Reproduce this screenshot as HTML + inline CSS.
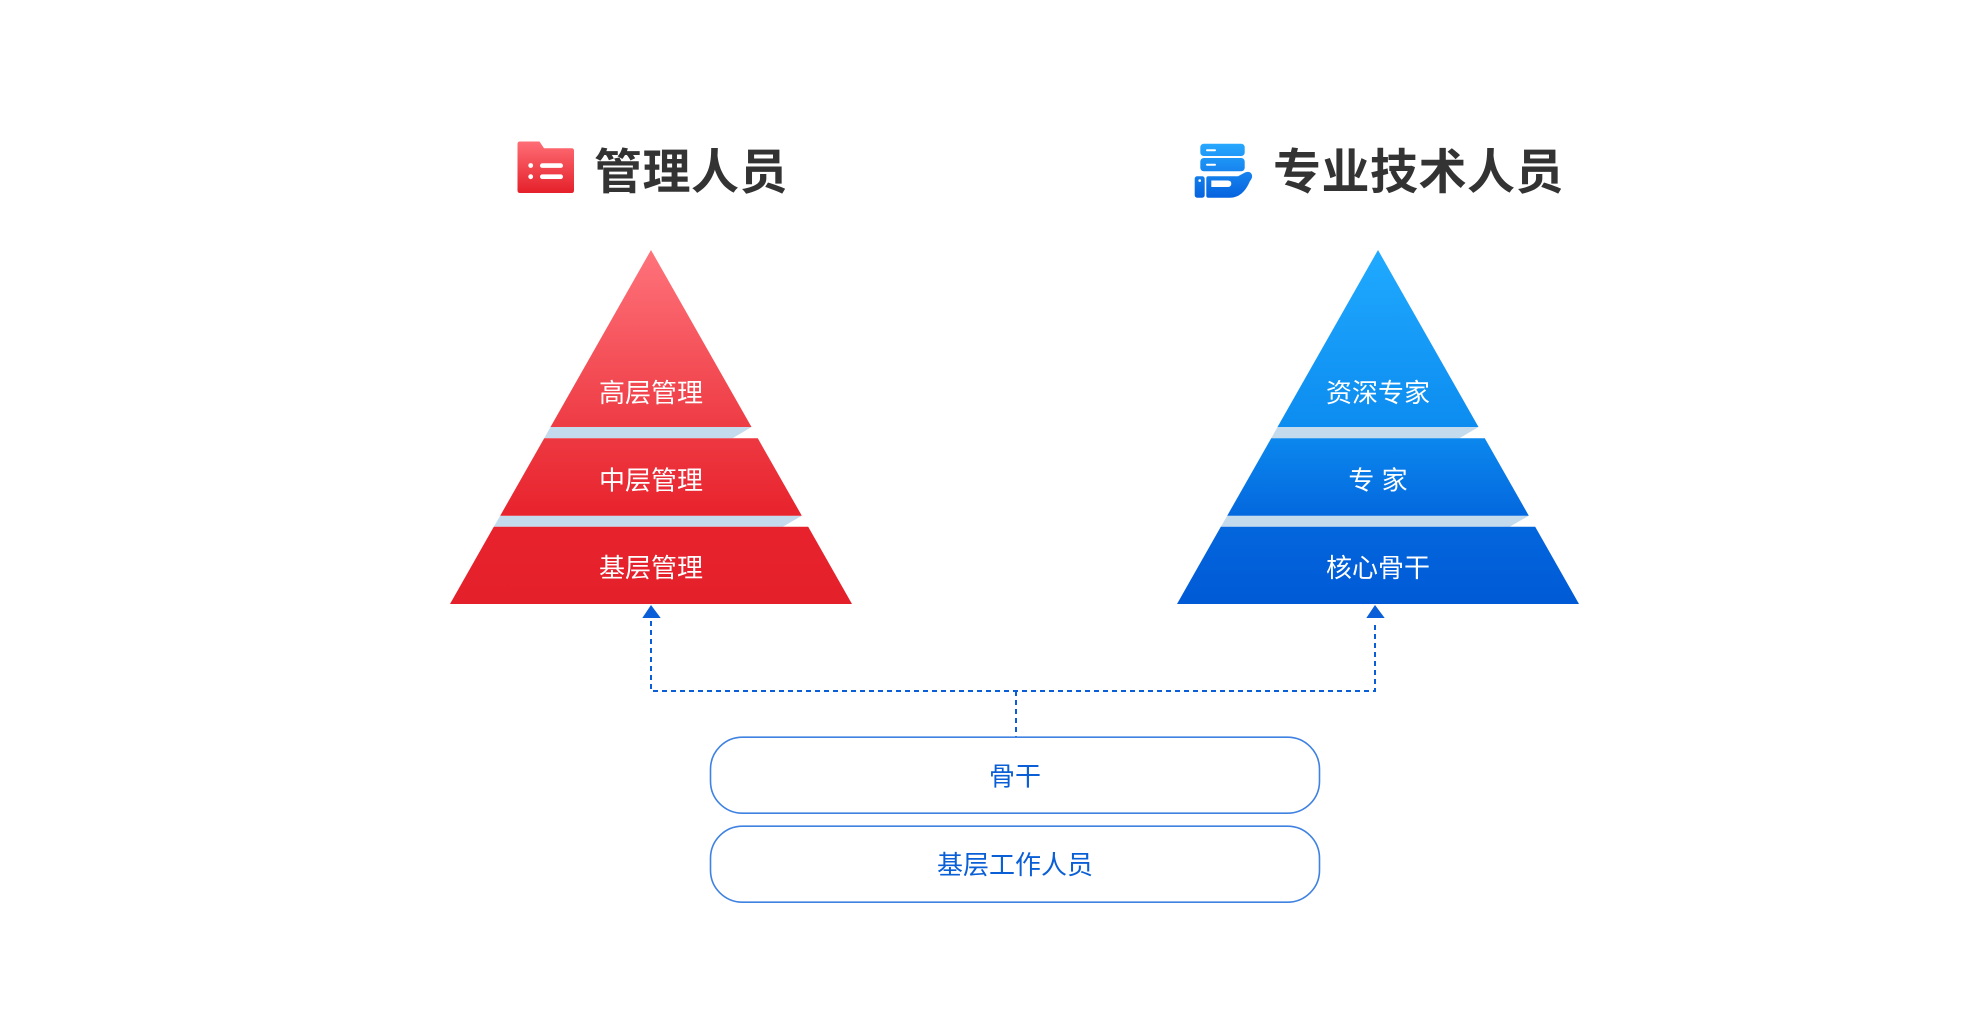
<!DOCTYPE html>
<html>
<head>
<meta charset="utf-8">
<style>
  html, body { margin: 0; padding: 0; background: #ffffff; }
  body { width: 1977px; height: 1016px; overflow: hidden; }
  svg { display: block; }
  text { font-family: "Liberation Sans", "Noto Sans CJK SC", sans-serif; }
</style>
</head>
<body>
<svg width="1977" height="1016" viewBox="0 0 1977 1016" xmlns="http://www.w3.org/2000/svg">
  <defs>
    <linearGradient id="redG" gradientUnits="userSpaceOnUse" x1="0" y1="250" x2="0" y2="604">
      <stop offset="0" stop-color="#ff737b"/>
      <stop offset="0.5" stop-color="#ee3b44"/>
      <stop offset="0.75" stop-color="#e8232d"/>
      <stop offset="1" stop-color="#e4202a"/>
    </linearGradient>
    <linearGradient id="blueG" gradientUnits="userSpaceOnUse" x1="0" y1="250" x2="0" y2="604">
      <stop offset="0" stop-color="#20aaff"/>
      <stop offset="0.5" stop-color="#0c8cf0"/>
      <stop offset="0.75" stop-color="#0468de"/>
      <stop offset="1" stop-color="#005ad6"/>
    </linearGradient>
    <linearGradient id="redIcon" x1="0" y1="0" x2="0" y2="1">
      <stop offset="0" stop-color="#ff6e76"/>
      <stop offset="1" stop-color="#e5202a"/>
    </linearGradient>
    <linearGradient id="blueIcon" gradientUnits="userSpaceOnUse" x1="0" y1="143" x2="0" y2="198">
      <stop offset="0" stop-color="#28a9ff"/>
      <stop offset="1" stop-color="#0662df"/>
    </linearGradient>
  </defs>

  <!-- Left title icon -->
  <path d="M517.5 144 Q517.5 141.5 520 141.5 H539.5 L544 148.3 H571.5 Q574 148.3 574 150.8 V190.5 Q574 193 571.5 193 H520 Q517.5 193 517.5 190.5 Z" fill="url(#redIcon)"/>
  <circle cx="530.7" cy="165.5" r="2.4" fill="#ffffff"/>
  <circle cx="530.7" cy="176.7" r="2.4" fill="#ffffff"/>
  <rect x="540" y="163.3" width="23" height="4.6" rx="2.3" fill="#ffffff"/>
  <rect x="540" y="174.4" width="23" height="4.6" rx="2.3" fill="#ffffff"/>
  <text x="594" y="188.5" font-size="48" font-weight="bold" letter-spacing="0.5" fill="#333333">管理人员</text>

  <!-- Right title icon -->
  <rect x="1200.3" y="143.7" width="44.4" height="12.3" rx="3.5" fill="url(#blueIcon)"/>
  <rect x="1200.3" y="158" width="44.4" height="13.3" rx="3.5" fill="url(#blueIcon)"/>
  <rect x="1206" y="149.3" width="10" height="2" rx="1" fill="#ffffff"/>
  <rect x="1206" y="163.7" width="10" height="2" rx="1" fill="#ffffff"/>
  <rect x="1194.7" y="176.3" width="10" height="21.4" rx="2.5" fill="url(#blueIcon)"/>
  <circle cx="1199.7" cy="180.6" r="1.3" fill="#ffffff"/>
  <path d="M1208.3 176.3 H1238 L1245 172.5 Q1250 170.5 1251.8 174.5 Q1253 177.5 1250 181 Q1243 197.7 1230 197.7 H1208.3 Q1206.3 197.7 1206.3 195.7 V178.3 Q1206.3 176.3 1208.3 176.3 Z" fill="url(#blueIcon)"/>
  <path d="M1211.3 180.5 H1227.5 Q1231.3 180.5 1231.3 183.7 Q1231.3 187 1227.5 187 H1211.3 Z" fill="#ffffff"/>
  <text x="1273" y="188.5" font-size="48" font-weight="bold" letter-spacing="0.5" fill="#333333">专业技术人员</text>

  <!-- Left pyramid -->
  <polygon points="550.5,427 751.5,427 732.5,438.3 544.2,438.3" fill="#c4dbee"/>
  <polygon points="500.2,515.7 801.8,515.7 782.8,526.7 493.8,526.7" fill="#c4dbee"/>
  <polygon points="651,250 751.5,427 550.5,427" fill="url(#redG)"/>
  <polygon points="544.2,438.3 757.8,438.3 801.8,515.7 500.2,515.7" fill="url(#redG)"/>
  <polygon points="493.8,526.7 808.2,526.7 852,604 450,604" fill="url(#redG)"/>
  <text x="651" y="402" font-size="26" fill="#ffffff" text-anchor="middle">高层管理</text>
  <text x="651" y="489.5" font-size="26" fill="#ffffff" text-anchor="middle">中层管理</text>
  <text x="651" y="577" font-size="26" fill="#ffffff" text-anchor="middle">基层管理</text>

  <!-- Right pyramid -->
  <g transform="translate(727,0)">
    <polygon points="550.5,427 751.5,427 732.5,438.3 544.2,438.3" fill="#c4dbee"/>
    <polygon points="500.2,515.7 801.8,515.7 782.8,526.7 493.8,526.7" fill="#c4dbee"/>
    <polygon points="651,250 751.5,427 550.5,427" fill="url(#blueG)"/>
    <polygon points="544.2,438.3 757.8,438.3 801.8,515.7 500.2,515.7" fill="url(#blueG)"/>
    <polygon points="493.8,526.7 808.2,526.7 852,604 450,604" fill="url(#blueG)"/>
    <text x="651" y="402" font-size="26" fill="#ffffff" text-anchor="middle">资深专家</text>
    <text x="651" y="489.5" font-size="26" fill="#ffffff" text-anchor="middle">专 家</text>
    <text x="651" y="577" font-size="26" fill="#ffffff" text-anchor="middle">核心骨干</text>
  </g>

  <!-- Connectors -->
  <path d="M651 621 V691 H1375 V621" fill="none" stroke="#0a5fd8" stroke-width="2" stroke-dasharray="5 4"/>
  <path d="M1016 691 V737" fill="none" stroke="#0a5fd8" stroke-width="2" stroke-dasharray="5 4"/>
  <polygon points="651,605 642.3,618 660.7,618" fill="#0a5fd8"/>
  <polygon points="1375,605 1366.3,618 1384.7,618" fill="#0a5fd8"/>

  <!-- Boxes -->
  <rect x="710.5" y="737.2" width="609" height="76" rx="32" fill="#ffffff" stroke="#3f82e2" stroke-width="1.6"/>
  <rect x="710.5" y="826.2" width="609" height="76" rx="32" fill="#ffffff" stroke="#3f82e2" stroke-width="1.6"/>
  <text x="1015" y="785.5" font-size="26" fill="#0a5fd6" text-anchor="middle">骨干</text>
  <text x="1015" y="874" font-size="26" fill="#0a5fd6" text-anchor="middle">基层工作人员</text>
</svg>
</body>
</html>
